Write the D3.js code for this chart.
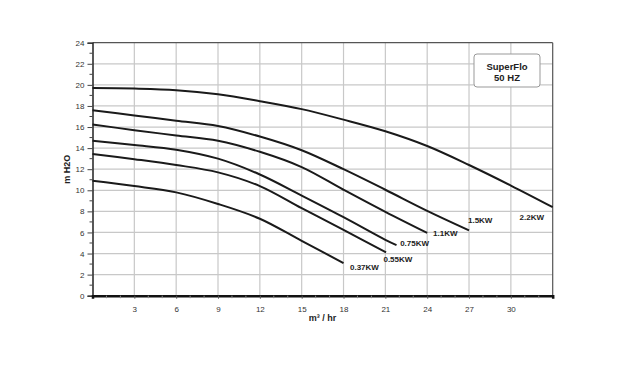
<!DOCTYPE html>
<html><head><meta charset="utf-8">
<script src="https://cdn.jsdelivr.net/npm/d3@7"></script>
<style>body{margin:0;background:#fff}svg{display:block}text{font-family:Arial,"Liberation Sans",sans-serif}</style>
</head><body>
<svg id="c" width="635" height="365"></svg>
<script>
const xTicks = [3,6,9,12,15,18,21,24,27,30];
const yTicks = [0,2,4,6,8,10,12,14,16,18,20,22,24];
const seriesNames = ["2.2KW","1.5KW","1.1KW","0.75KW","0.55KW","0.37KW"];
const s22  = [[0,19.7],[3,19.65],[6,19.5],[9,19.1],[12,18.45],[15,17.7],[18,16.7],[21,15.6],[24,14.2],[27,12.4],[30,10.45],[33,8.4]];
const s15  = [[0,17.6],[3,17.1],[6,16.6],[9,16.1],[12,15.1],[15,13.8],[18,12.0],[21,10.05],[24,8.05],[27,6.2]];
const s11  = [[0,16.25],[3,15.7],[6,15.2],[9,14.7],[12,13.65],[15,12.2],[18,10.05],[21,7.95],[24,5.95]];
const s075 = [[0,14.7],[3,14.3],[6,13.85],[9,13.0],[12,11.5],[15,9.5],[18,7.45],[21,5.3],[21.8,4.8]];
const s055 = [[0,13.45],[3,12.95],[6,12.4],[9,11.7],[12,10.4],[15,8.3],[18,6.25],[21.05,4.1]];
const s037 = [[0,10.9],[3,10.4],[6,9.8],[9,8.7],[12,7.3],[15,5.2],[18,3.1]];
const seriesData = [s22,s15,s11,s075,s055,s037];
const labelPos = [[31.5,7.2],[27.8,6.9],[25.3,5.7],[23.1,4.7],[21.9,3.2],[19.5,2.4]];
const legendLines = ["SuperFlo","50 HZ"];

const svg = d3.select("#c");
const L=92.5, R=552.7, T=42.7, B=295.7;
const x = d3.scaleLinear().domain([0,33]).range([L,R]);
const y = d3.scaleLinear().domain([0,24]).range([B,T]);

// grid
svg.append("g").selectAll("line").data(xTicks).join("line")
  .attr("x1",d=>x(d)).attr("x2",d=>x(d)).attr("y1",T).attr("y2",B)
  .attr("stroke","#c8c8c8").attr("stroke-width",1.2);
svg.append("g").selectAll("line").data(yTicks.filter(d=>d>0&&d<24)).join("line")
  .attr("y1",d=>y(d)).attr("y2",d=>y(d)).attr("x1",L).attr("x2",R)
  .attr("stroke","#c8c8c8").attr("stroke-width",1.2);
// frame top/right
svg.append("line").attr("x1",L).attr("x2",R).attr("y1",y(24)).attr("y2",y(24)).attr("stroke","#555").attr("stroke-width",1.2);
svg.append("line").attr("x1",R).attr("x2",R).attr("y1",T).attr("y2",B).attr("stroke","#555").attr("stroke-width",1.2);

// y axis
const yAxis = d3.axisLeft(y).tickValues(yTicks).tickSize(5).tickPadding(3);
const gy = svg.append("g").attr("transform",`translate(${L},0)`).call(yAxis);
gy.select(".domain").attr("stroke","#222").attr("stroke-width",1.5);
gy.selectAll(".tick line").attr("stroke","#444");
gy.selectAll("text").attr("font-size",8).attr("fill","#333");
const yMinor = d3.range(1,24,2);
svg.append("g").selectAll("line").data(yMinor).join("line")
  .attr("x1",L-3).attr("x2",L).attr("y1",d=>y(d)).attr("y2",d=>y(d)).attr("stroke","#444");

// x axis
const xAxis = d3.axisBottom(x).tickValues(xTicks).tickSize(3).tickPadding(8);
const gx = svg.append("g").attr("transform",`translate(0,${B})`).call(xAxis);
gx.select(".domain").attr("stroke","#111").attr("stroke-width",2.5);
gx.selectAll(".tick line").attr("stroke","#555");
gx.selectAll("text").attr("font-size",8).attr("fill","#333");
const xMinor = d3.range(1,33,1).filter(d=>d%3!==0);
svg.append("g").selectAll("line").data(xMinor).join("line")
  .attr("x1",d=>x(d)).attr("x2",d=>x(d)).attr("y1",B).attr("y2",B+2.5).attr("stroke","#888");

// titles
svg.append("text").attr("transform",`translate(70,${y(12)}) rotate(-90)`).attr("text-anchor","middle")
  .attr("font-size",9).attr("font-weight","bold").attr("fill","#222").text("m  H2O");
svg.append("text").attr("x",x(16.5)).attr("y",321).attr("text-anchor","middle")
  .attr("font-size",9).attr("font-weight","bold").attr("fill","#222").text("m³ / hr");

// curves
const line = d3.line().x(d=>x(d[0])).y(d=>y(d[1])).curve(d3.curveCatmullRom.alpha(0.5));
svg.append("g").selectAll("path").data(seriesData).join("path")
  .attr("d",line).attr("fill","none").attr("stroke","#1a1a1a").attr("stroke-width",2);

// labels
svg.append("g").selectAll("text").data(seriesNames).join("text")
  .attr("x",(d,i)=>x(labelPos[i][0])).attr("y",(d,i)=>y(labelPos[i][1]))
  .attr("text-anchor","middle").attr("font-size",8).attr("font-weight","bold").attr("fill","#222")
  .text(d=>d);

// legend box
svg.append("rect").attr("x",474).attr("y",54).attr("width",66).attr("height",33).attr("rx",3)
  .attr("fill","#fff").attr("stroke","#999").attr("stroke-width",1);
svg.append("g").selectAll("text").data(legendLines).join("text")
  .attr("x",507).attr("y",(d,i)=>69.5+i*11).attr("text-anchor","middle")
  .attr("font-size",9.5).attr("font-weight","bold").attr("fill","#222").text(d=>d);
</script>
</body></html>
